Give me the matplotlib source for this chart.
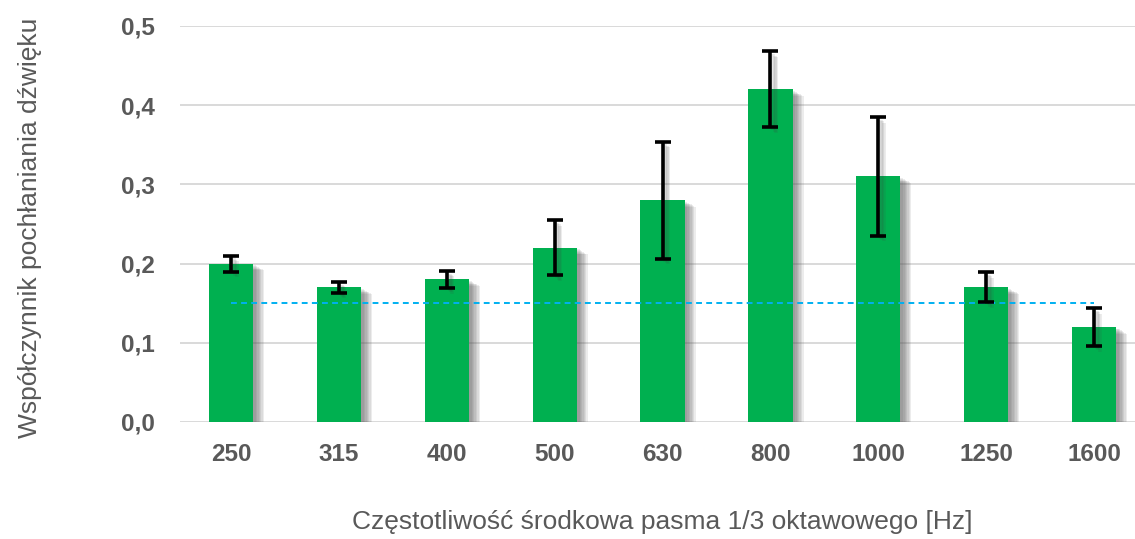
import matplotlib
matplotlib.use("Agg")
import matplotlib.pyplot as plt
import matplotlib.patheffects as pe
import numpy as np

plt.rcParams['font.family'] = ['Liberation Sans', 'DejaVu Sans']

frequencies = ["250", "315", "400", "500", "630", "800", "1000", "1250", "1600"]
absorption = [0.20, 0.17, 0.18, 0.22, 0.28, 0.42, 0.31, 0.17, 0.12]
error = [0.010, 0.007, 0.011, 0.035, 0.074, 0.048, 0.075, 0.019, 0.024]
reference_level = 0.15
y_ticks = [0.0, 0.1, 0.2, 0.3, 0.4, 0.5]

text_gray = "#595959"
bar_green = "#00B050"
line_blue = "#00B0F0"

fig = plt.figure(figsize=(11.35, 5.39), dpi=100)
ax = fig.add_axes([180 / 1135, 1 - 422 / 539, (1135 - 180) / 1135, (422 - 26) / 539])

x = np.arange(len(frequencies))

# soft drop shadow built from a few stacked, faint offset copies
soft_shadow = [pe.SimplePatchShadow(offset=(d, -0.6 * d), shadow_rgbFace="#555555", alpha=0.11)
               for d in (8, 7, 6, 5, 4, 3, 2)] + [pe.Normal()]
bars = ax.bar(x, absorption, width=0.41, color=bar_green, zorder=3)
for b in bars:
    b.set_path_effects(soft_shadow)

eb = ax.errorbar(x, absorption, yerr=error, fmt="none", ecolor="black",
                 elinewidth=2.6, capsize=6, capthick=2.6, zorder=5)
line_shadow = [pe.SimpleLineShadow(offset=(d, -d), shadow_color="#404040", alpha=0.12)
               for d in (4, 3, 2)] + [pe.Normal()]
for line in eb.lines[2]:
    line.set_path_effects(line_shadow)

ax.plot([x[0], x[-1]], [reference_level, reference_level], color=line_blue,
        lw=1.4, dashes=(3, 2.2), zorder=4)

ax.set_xlim(-0.473, 8.38)
ax.set_ylim(0, 0.5)
ax.set_yticks(y_ticks)
ax.set_yticklabels([f"{v:.1f}".replace(".", ",") for v in y_ticks])
ax.set_xticks(x)
ax.set_xticklabels(frequencies)
for lbl in ax.get_xticklabels() + ax.get_yticklabels():
    lbl.set_fontweight("bold")
    lbl.set_color(text_gray)
    lbl.set_fontsize(17.5)

ax.tick_params(axis="both", length=0)
ax.tick_params(axis="x", pad=15)
ax.tick_params(axis="y", pad=18)
ax.yaxis.grid(True, color="#d9d9d9", lw=1.4, zorder=0)
ax.set_axisbelow(True)
for s in ax.spines.values():
    s.set_visible(False)

fig.text(662 / 1135, 1 - 522 / 539, "Częstotliwość środkowa pasma 1/3 oktawowego [Hz]",
         ha="center", va="center", fontsize=19, color=text_gray)
fig.text(30 / 1135, 1 - 228 / 539, "Współczynnik pochłaniania dźwięku",
         ha="center", va="center", rotation=90, fontsize=19, color=text_gray)

fig.savefig("out.png", dpi=100, facecolor="white")
